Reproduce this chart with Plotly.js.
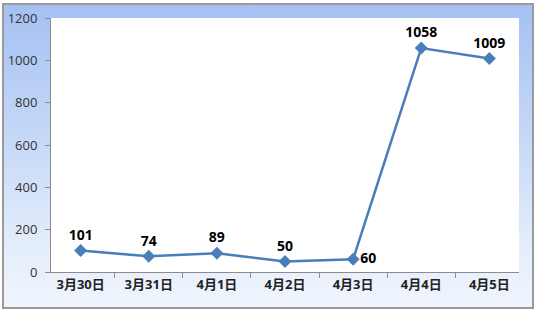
<!DOCTYPE html>
<html>
<head>
<meta charset="utf-8">
<script src="https://cdn.plot.ly/plotly-3.0.1.min.js"></script>
<style>
  html, body { margin:0; padding:0; background:#ffffff; }
  #bg { position:absolute; left:2px; top:3px; width:528px; height:302px;
        border:2px solid #9a9a9a;
        background: linear-gradient(to bottom, #a5c1f2 0%, #c6d9f7 45%, #e4edfb 80%, #f0f5fd 100%); }
  #chart { position:absolute; left:0; top:0; width:536px; height:311px; }
</style>
</head>
<body>
<div id="bg"></div>
<div id="chart"></div>
<script>
const categories = ["3月30日","3月31日","4月1日","4月2日","4月3日","4月4日","4月5日"];
const values = [101, 74, 89, 50, 60, 1058, 1009];
const labelPositions = ["top center","top center","top center","top center","middle right","top center","top center"];
const yTicks = [0, 200, 400, 600, 800, 1000, 1200];

const trace = {
  type: "scatter",
  mode: "lines+markers+text",
  x: categories,
  y: values,
  text: values.map(v => String(v)),
  textposition: labelPositions,
  textfont: { family: "Open Sans, Noto Sans, sans-serif", size: 14, color: "#000000", weight: "bold" },
  line: { color: "#4a7ebb", width: 2.5 },
  marker: { symbol: "diamond", size: 10, color: "#4a7ebb" },
  cliponaxis: false,
  hoverinfo: "skip"
};

const layout = {
  width: 536, height: 311,
  margin: { l: 51, r: 17, t: 18, b: 39 },
  paper_bgcolor: "rgba(0,0,0,0)",
  plot_bgcolor: "#ffffff",
  showlegend: false,
  font: { family: "Open Sans, Noto Sans CJK SC, sans-serif", color: "#333333" },
  xaxis: {
    type: "category",
    tickson: "boundaries",
    ticks: "outside", ticklen: 5, tickcolor: "#8c8c8c",
    showline: true, linecolor: "#8c8c8c", linewidth: 1,
    showgrid: false, zeroline: false,
    tickfont: { family: "Open Sans, Noto Sans CJK SC, sans-serif", size: 13, color: "#222222", weight: "bold" },
    fixedrange: true
  },
  yaxis: {
    range: [0, 1200],
    tickvals: yTicks,
    ticktext: yTicks.map(v => String(v)),
    ticks: "outside", ticklen: 5, tickcolor: "#8c8c8c",
    ticklabelstandoff: 5,
    showline: true, linecolor: "#8c8c8c", linewidth: 1,
    showgrid: false, zeroline: false,
    tickfont: { family: "Open Sans, sans-serif", size: 13, color: "#333333" },
    fixedrange: true
  }
};

Plotly.newPlot("chart", [trace], layout, { displayModeBar: false, staticPlot: true });
</script>
</body>
</html>
